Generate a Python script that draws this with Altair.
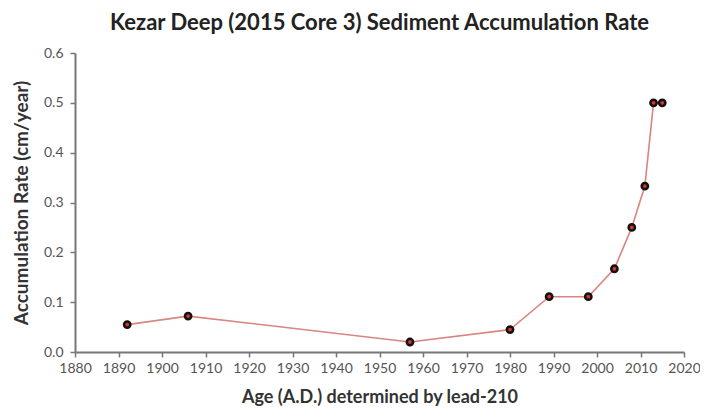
import altair as alt
import pandas as pd

years = [1892, 1906, 1957, 1980, 1989, 1998, 2004, 2008, 2011, 2013, 2015]
rates = [0.055, 0.072, 0.020, 0.045, 0.111, 0.111, 0.167, 0.250, 0.333, 0.500, 0.500]
x_ticks = list(range(1880, 2021, 10))
y_ticks = [0.0, 0.1, 0.2, 0.3, 0.4, 0.5, 0.6]

df = pd.DataFrame({"year": years, "rate": rates})

FONT = "Lato"

x = alt.X("year:Q", scale=alt.Scale(domain=[1880, 2020], nice=False, zero=False),
          axis=alt.Axis(values=x_ticks, format="d", title="Age (A.D.) determined by lead-210",
                        grid=False, labelFont=FONT, labelFontSize=14, labelColor="#555",
                        labelOverlap=False, labelFlush=False,
                        titleFont=FONT, titleFontSize=18, titleFontWeight="bold", titleColor="#333",
                        domainColor="#777", domainWidth=2, tickColor="#777", tickWidth=1.5,
                        tickSize=5, labelPadding=4, titlePadding=13))
y = alt.Y("rate:Q", scale=alt.Scale(domain=[0, 0.6], nice=False),
          axis=alt.Axis(values=y_ticks, format=".1f", title="Accumulation Rate (cm/year)",
                        grid=False, labelFont=FONT, labelFontSize=14, labelColor="#555",
                        labelOverlap=False, labelFlush=False,
                        titleFont=FONT, titleFontSize=19, titleFontWeight="bold", titleColor="#333",
                        domainColor="#777", domainWidth=2, tickColor="#777", tickWidth=1.5,
                        tickSize=5, labelPadding=7, titlePadding=12))

base = alt.Chart(df)
line = base.mark_line(color="#d98580", strokeWidth=1.6).encode(x=x, y=y)
pts = base.mark_point(shape="circle", filled=True, fill="#d93030", stroke="#111",
                      strokeWidth=2.5, size=40, opacity=1).encode(x=x, y=y)

chart = (line + pts).properties(
    width=609, height=299,
    title=alt.TitleParams("Kezar Deep (2015 Core 3) Sediment Accumulation Rate",
                          font=FONT, fontSize=22, fontWeight="bold", color="#222",
                          anchor="middle", offset=11),
    autosize=alt.AutoSizeParams(type="none"),
    padding={"left": 67, "top": 45, "right": 16, "bottom": 58},
).configure_view(stroke=None)

chart.save("out.html", embed_options={"renderer": "svg", "actions": False})
